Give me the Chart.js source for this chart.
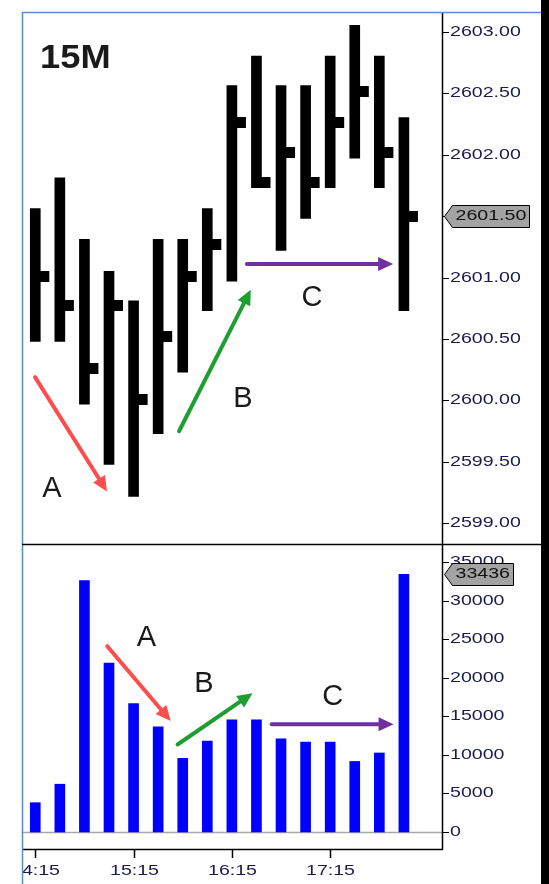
<!DOCTYPE html>
<html>
<head>
<meta charset="utf-8">
<script src="https://cdn.jsdelivr.net/npm/chart.js@4"></script>
<style>
  html, body { margin: 0; padding: 0; background: #fff; }
  #wrap { position: relative; width: 549px; height: 884px; overflow: hidden; }
  #priceChart { position: absolute; left: 0; top: 0; }
  #volumeChart { position: absolute; left: 0; top: 549px; }
</style>
</head>
<body>
<div id="wrap">
  <canvas id="priceChart" width="549" height="550"></canvas>
  <canvas id="volumeChart" width="549" height="335"></canvas>
</div>
<script>
// 15 minute bars (high / low / close) and volume
const times = ['14:15', '14:30', '14:45', '15:00', '15:15', '15:30', '15:45', '16:00',
               '16:15', '16:30', '16:45', '17:00', '17:15', '17:30', '17:45', '18:00'];
const highs = [2601.56, 2601.81, 2601.31, 2601.05, 2600.81, 2601.31, 2601.31, 2601.56,
               2602.56, 2602.80, 2602.56, 2602.56, 2602.80, 2603.05, 2602.80, 2602.30];
const lows = [2600.48, 2600.48, 2599.97, 2599.48, 2599.22, 2599.73, 2600.23, 2600.73,
              2600.97, 2601.73, 2601.22, 2601.48, 2601.73, 2601.97, 2601.73, 2600.73];
const closes = [2601.01, 2600.77, 2600.26, 2600.77, 2600.01, 2600.52, 2601.01, 2601.27,
                2602.26, 2601.77, 2602.02, 2601.77, 2602.26, 2602.51, 2602.02, 2601.50];
const volumes = [3800, 6200, 32600, 21900, 16650, 13650, 9550, 11800,
                 14550, 14550, 12100, 11650, 11650, 9150, 10250, 33436];

const priceTicks = [2599.00, 2599.50, 2600.00, 2600.50, 2601.00, 2601.50, 2602.00, 2602.50, 2603.00];
const volumeTicks = [0, 5000, 10000, 15000, 20000, 25000, 30000, 35000];
const timeTicks = ['14:15', '15:15', '16:15', '17:15'];

const RED = '#ff4d4d';
const GREEN = '#1e9e30';
const PURPLE = '#7030a0';
const FRAME_BLUE = '#5a8ad0';
const AXIS_TEXT = '#1c1c4c';
const AXIS_FONT = '14px "Liberation Sans", Arial, sans-serif';
const TEXT_STRETCH = 1.4; // the platform's axis font is drawn wide

// visible x range in bar-index units, shared by both panels
const X_MIN = -0.54;
const X_MAX = 16.55;

// annotations, in data coordinates of each panel
const priceNotes = [
  { text: 'A', at: [0.68, 2599.28], from: [-0.01, 2600.19], to: [2.92, 2599.26], color: RED },
  { text: 'B', at: [8.45, 2600.01], from: [5.85, 2599.75], to: [8.77, 2600.90], color: GREEN },
  { text: 'C', at: [11.26, 2600.83], from: [8.61, 2601.11], to: [14.56, 2601.11], color: PURPLE }
];
const volumeNotes = [
  { text: 'A', at: [4.52, 25200], from: [2.93, 24100], to: [5.51, 14400], color: RED },
  { text: 'B', at: [6.86, 19200], from: [5.79, 11350], to: [8.84, 18000], color: GREEN },
  { text: 'C', at: [12.10, 17450], from: [9.62, 13980], to: [14.58, 13980], color: PURPLE }
];

function wideText(ctx, text, x, y, align) {
  ctx.save();
  ctx.translate(x, y);
  ctx.scale(TEXT_STRETCH, 1);
  ctx.textAlign = align;
  ctx.textBaseline = 'middle';
  ctx.fillText(text, 0, 0);
  ctx.restore();
}

function arrow(ctx, x1, y1, x2, y2, color) {
  const ang = Math.atan2(y2 - y1, x2 - x1);
  const head = 15, half = 7;
  const bx = x2 - head * Math.cos(ang);
  const by = y2 - head * Math.sin(ang);
  ctx.save();
  ctx.strokeStyle = color;
  ctx.fillStyle = color;
  ctx.lineWidth = 4;
  ctx.lineCap = 'round';
  ctx.beginPath();
  ctx.moveTo(x1, y1);
  ctx.lineTo(bx, by);
  ctx.stroke();
  ctx.beginPath();
  ctx.moveTo(x2, y2);
  ctx.lineTo(bx + half * Math.sin(ang), by - half * Math.cos(ang));
  ctx.lineTo(bx - half * Math.sin(ang), by + half * Math.cos(ang));
  ctx.closePath();
  ctx.fill();
  ctx.restore();
}

function drawNotes(chart, notes) {
  const { ctx, scales: { x, y } } = chart;
  notes.forEach(n => {
    arrow(ctx, x.getPixelForValue(n.from[0]), y.getPixelForValue(n.from[1]),
          x.getPixelForValue(n.to[0]), y.getPixelForValue(n.to[1]), n.color);
    ctx.save();
    ctx.fillStyle = '#1a1a1a';
    ctx.font = '29px "Liberation Sans", Arial, sans-serif';
    ctx.textAlign = 'center';
    ctx.textBaseline = 'middle';
    ctx.fillText(n.text, x.getPixelForValue(n.at[0]), y.getPixelForValue(n.at[1]));
    ctx.restore();
  });
}

function drawYAxis(chart, values, fmt) {
  const { ctx, chartArea: area, scales: { y } } = chart;
  ctx.save();
  ctx.strokeStyle = '#000';
  ctx.lineWidth = 1;
  ctx.fillStyle = AXIS_TEXT;
  ctx.font = AXIS_FONT;
  values.forEach(v => {
    const py = Math.round(y.getPixelForValue(v)) + 0.5;
    ctx.beginPath();
    ctx.moveTo(area.right, py);
    ctx.lineTo(area.right + 7, py);
    ctx.stroke();
    wideText(ctx, fmt(v), area.right + 8, py, 'left');
  });
  ctx.restore();
}

// grey box with a pointer showing the last value on the axis
function valueBox(chart, value, text) {
  const { ctx, chartArea: area, scales: { y } } = chart;
  const py = Math.round(y.getPixelForValue(value)) + 0.5;
  const left = area.right + 2.5;
  ctx.save();
  ctx.font = AXIS_FONT;
  const right = Math.round(left + 11 + ctx.measureText(text).width * TEXT_STRETCH + 3) + 0.5;
  ctx.beginPath();
  ctx.moveTo(left, py);
  ctx.lineTo(left + 8, py - 11);
  ctx.lineTo(right, py - 11);
  ctx.lineTo(right, py + 11);
  ctx.lineTo(left + 8, py + 11);
  ctx.closePath();
  ctx.fillStyle = '#a3a3a3';
  ctx.fill();
  ctx.strokeStyle = '#000';
  ctx.lineWidth = 1;
  ctx.stroke();
  ctx.fillStyle = '#111';
  wideText(ctx, text, left + 11, py, 'left');
  ctx.restore();
}

function line(ctx, x1, y1, x2, y2, color, width) {
  ctx.save();
  ctx.strokeStyle = color;
  ctx.lineWidth = width;
  ctx.beginPath();
  ctx.moveTo(x1, y1);
  ctx.lineTo(x2, y2);
  ctx.stroke();
  ctx.restore();
}

// close tick: small block to the right of the bar, used as point image
function makeCloseTick() {
  const c = document.createElement('canvas');
  c.width = 30;
  c.height = 11;
  const g = c.getContext('2d');
  g.fillStyle = '#000';
  g.fillRect(19, 0, 10, 11);
  return c;
}

const pricePanel = {
  id: 'pricePanel',
  afterDraw(chart) {
    const { ctx, chartArea: area } = chart;
    drawYAxis(chart, priceTicks, v => v.toFixed(2));
    line(ctx, area.right + 0.5, area.top, area.right + 0.5, chart.height, '#000', 1.5);
    line(ctx, area.left, area.top + 0.5, 541, area.top + 0.5, FRAME_BLUE, 1.5);
    line(ctx, area.left + 0.5, area.top, area.left + 0.5, chart.height, FRAME_BLUE, 1.5);
    line(ctx, area.left, area.bottom + 0.5, 541, area.bottom + 0.5, '#000', 1.5);
    ctx.fillStyle = '#000';
    ctx.fillRect(541, 0, 8, chart.height);

    ctx.save();
    ctx.fillStyle = '#1a1a1a';
    ctx.font = 'bold 33px "Liberation Sans", Arial, sans-serif';
    ctx.translate(40, 68);
    ctx.scale(1.1, 1);
    ctx.fillText('15M', 0, 0);
    ctx.restore();

    drawNotes(chart, priceNotes);
    const last = closes[closes.length - 1];
    valueBox(chart, last, last.toFixed(2));
  }
};

const volumePanel = {
  id: 'volumePanel',
  beforeDatasetsDraw(chart) {
    const { ctx, chartArea: area, scales: { y } } = chart;
    const py = Math.round(y.getPixelForValue(0)) + 0.5;
    line(ctx, area.left, py, area.right, py, '#a8a8a8', 1.5);
  },
  afterDraw(chart) {
    const { ctx, chartArea: area, scales: { x } } = chart;
    drawYAxis(chart, volumeTicks, v => String(v));
    line(ctx, area.right + 0.5, 0, area.right + 0.5, area.bottom + 1, '#000', 1.5);
    line(ctx, area.left, area.bottom + 0.5, area.right + 1, area.bottom + 0.5, '#000', 1.5);

    // time axis, labels clipped at the panel's left edge
    ctx.save();
    ctx.beginPath();
    ctx.rect(area.left, area.bottom, area.right - area.left, chart.height - area.bottom);
    ctx.clip();
    ctx.fillStyle = AXIS_TEXT;
    ctx.font = AXIS_FONT;
    timeTicks.forEach(t => {
      const px = Math.round(x.getPixelForValue(times.indexOf(t))) + 0.5;
      line(ctx, px, area.bottom, px, area.bottom + 9, '#000', 1.5);
      wideText(ctx, t, px, area.bottom + 22, 'center');
    });
    ctx.restore();

    line(ctx, area.left + 0.5, 0, area.left + 0.5, chart.height, FRAME_BLUE, 1.5);
    ctx.fillStyle = '#000';
    ctx.fillRect(541, 0, 8, chart.height);

    drawNotes(chart, volumeNotes);
    const last = volumes[volumes.length - 1];
    valueBox(chart, last, String(last));
  }
};

const xScale = {
  type: 'linear',
  min: X_MIN,
  max: X_MAX,
  offset: false,
  grid: { display: false },
  border: { display: false },
  ticks: { display: false }
};

function rightAxis(min, max) {
  return {
    type: 'linear',
    position: 'right',
    min: min,
    max: max,
    grid: { display: false },
    border: { display: false },
    ticks: { display: false },
    afterFit(scale) { scale.width = 99; }
  };
}

new Chart(document.getElementById('priceChart'), {
  type: 'bar',
  data: {
    datasets: [{
      data: times.map((t, i) => ({ x: i, y: [lows[i], highs[i]] })),
      backgroundColor: '#000',
      borderWidth: 0,
      barThickness: 10
    }, {
      type: 'scatter',
      data: times.map((t, i) => ({ x: i, y: closes[i] })),
      pointStyle: makeCloseTick(),
      pointRadius: 5,
      backgroundColor: '#000'
    }]
  },
  options: {
    responsive: false,
    animation: false,
    events: [],
    layout: { padding: { left: 22, top: 12, right: 8, bottom: 1 } },
    plugins: { legend: { display: false }, tooltip: { enabled: false } },
    scales: {
      x: Object.assign({}, xScale, { display: false }),
      y: rightAxis(2598.833, 2603.159)
    }
  },
  plugins: [pricePanel]
});

new Chart(document.getElementById('volumeChart'), {
  type: 'bar',
  data: {
    datasets: [{
      data: times.map((t, i) => ({ x: i, y: volumes[i] })),
      backgroundColor: '#0000ff',
      borderWidth: 0,
      barThickness: 10
    }]
  },
  options: {
    responsive: false,
    animation: false,
    events: [],
    layout: { padding: { left: 22, top: 0, right: 8, bottom: 0 } },
    plugins: { legend: { display: false }, tooltip: { enabled: false } },
    scales: {
      x: Object.assign({}, xScale, { afterFit(scale) { scale.height = 35; } }),
      y: rightAxis(-2205, 36706)
    }
  },
  plugins: [volumePanel]
});
</script>
</body>
</html>
